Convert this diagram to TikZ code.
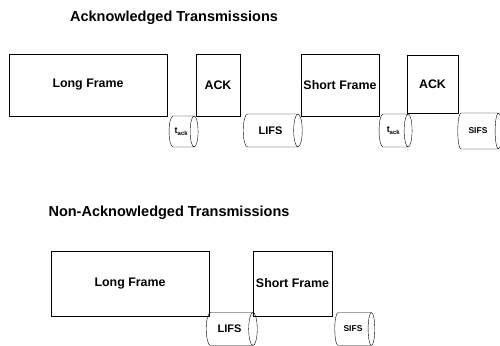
\documentclass[tikz,border=0pt]{standalone}
\usepackage{amsmath}
\usepackage{fontspec}
\setmainfont{Liberation Sans}
\usetikzlibrary{shapes.geometric,positioning}

\begin{document}
\begin{tikzpicture}[x=1pt,y=1pt,
    frame/.style={draw,thick,inner sep=0pt,font=\bfseries\fontsize{12.4}{14}\selectfont},
    gap/.style={draw,cylinder,shape border rotate=0,aspect=1.1,inner sep=0pt,
      font=\bfseries\fontsize{11}{13}\selectfont},
    heading/.style={font=\bfseries\fontsize{14.5}{17}\selectfont}]
  \useasboundingbox (0,0) rectangle (500,345);
  % acknowledged
  \node[heading] (titleA) at (174,327) {Acknowledged Transmissions};
  \node[frame,minimum width=158,minimum height=62] (longA) at (88,260) {Long Frame};
  \node[frame,minimum width=44,minimum height=62] (ackA) at (218,260) {ACK};
  \node[frame,minimum width=78,minimum height=62] (shortA) at (340,260) {Short Frame};
  \node[frame,minimum width=51,minimum height=58] (ackB) at (432.5,261) {ACK};
  \node[gap,minimum height=29,minimum width=31,font=\bfseries\fontsize{9}{10}\selectfont] (tackA) at (181.5,213.5) {t$_{\text{ack}}$};
  \node[gap,minimum height=59,minimum width=33] (lifsA) at (270.5,214.5) {LIFS};
  \node[gap,minimum height=33,minimum width=33,font=\bfseries\fontsize{9}{10}\selectfont] (tackB) at (393.5,214.5) {t$_{\text{ack}}$};
  \node[gap,minimum height=44,minimum width=36,font=\bfseries\fontsize{8.5}{10}\selectfont] (sifsA) at (478,214) {SIFS};
  % non-acknowledged
  \node[heading] (titleB) at (169,132) {Non-Acknowledged Transmissions};
  \node[frame,minimum width=158,minimum height=65] (longB) at (130,61.5) {Long Frame};
  \node[frame,minimum width=79,minimum height=65] (shortB) at (292.5,61.5) {Short Frame};
  \node[gap,minimum height=51,minimum width=33] (lifsB) at (229.5,16) {LIFS};
  \node[gap,minimum height=40,minimum width=33,font=\bfseries\fontsize{8.5}{10}\selectfont] (sifsB) at (353,16) {SIFS};
\end{tikzpicture}
\end{document}
